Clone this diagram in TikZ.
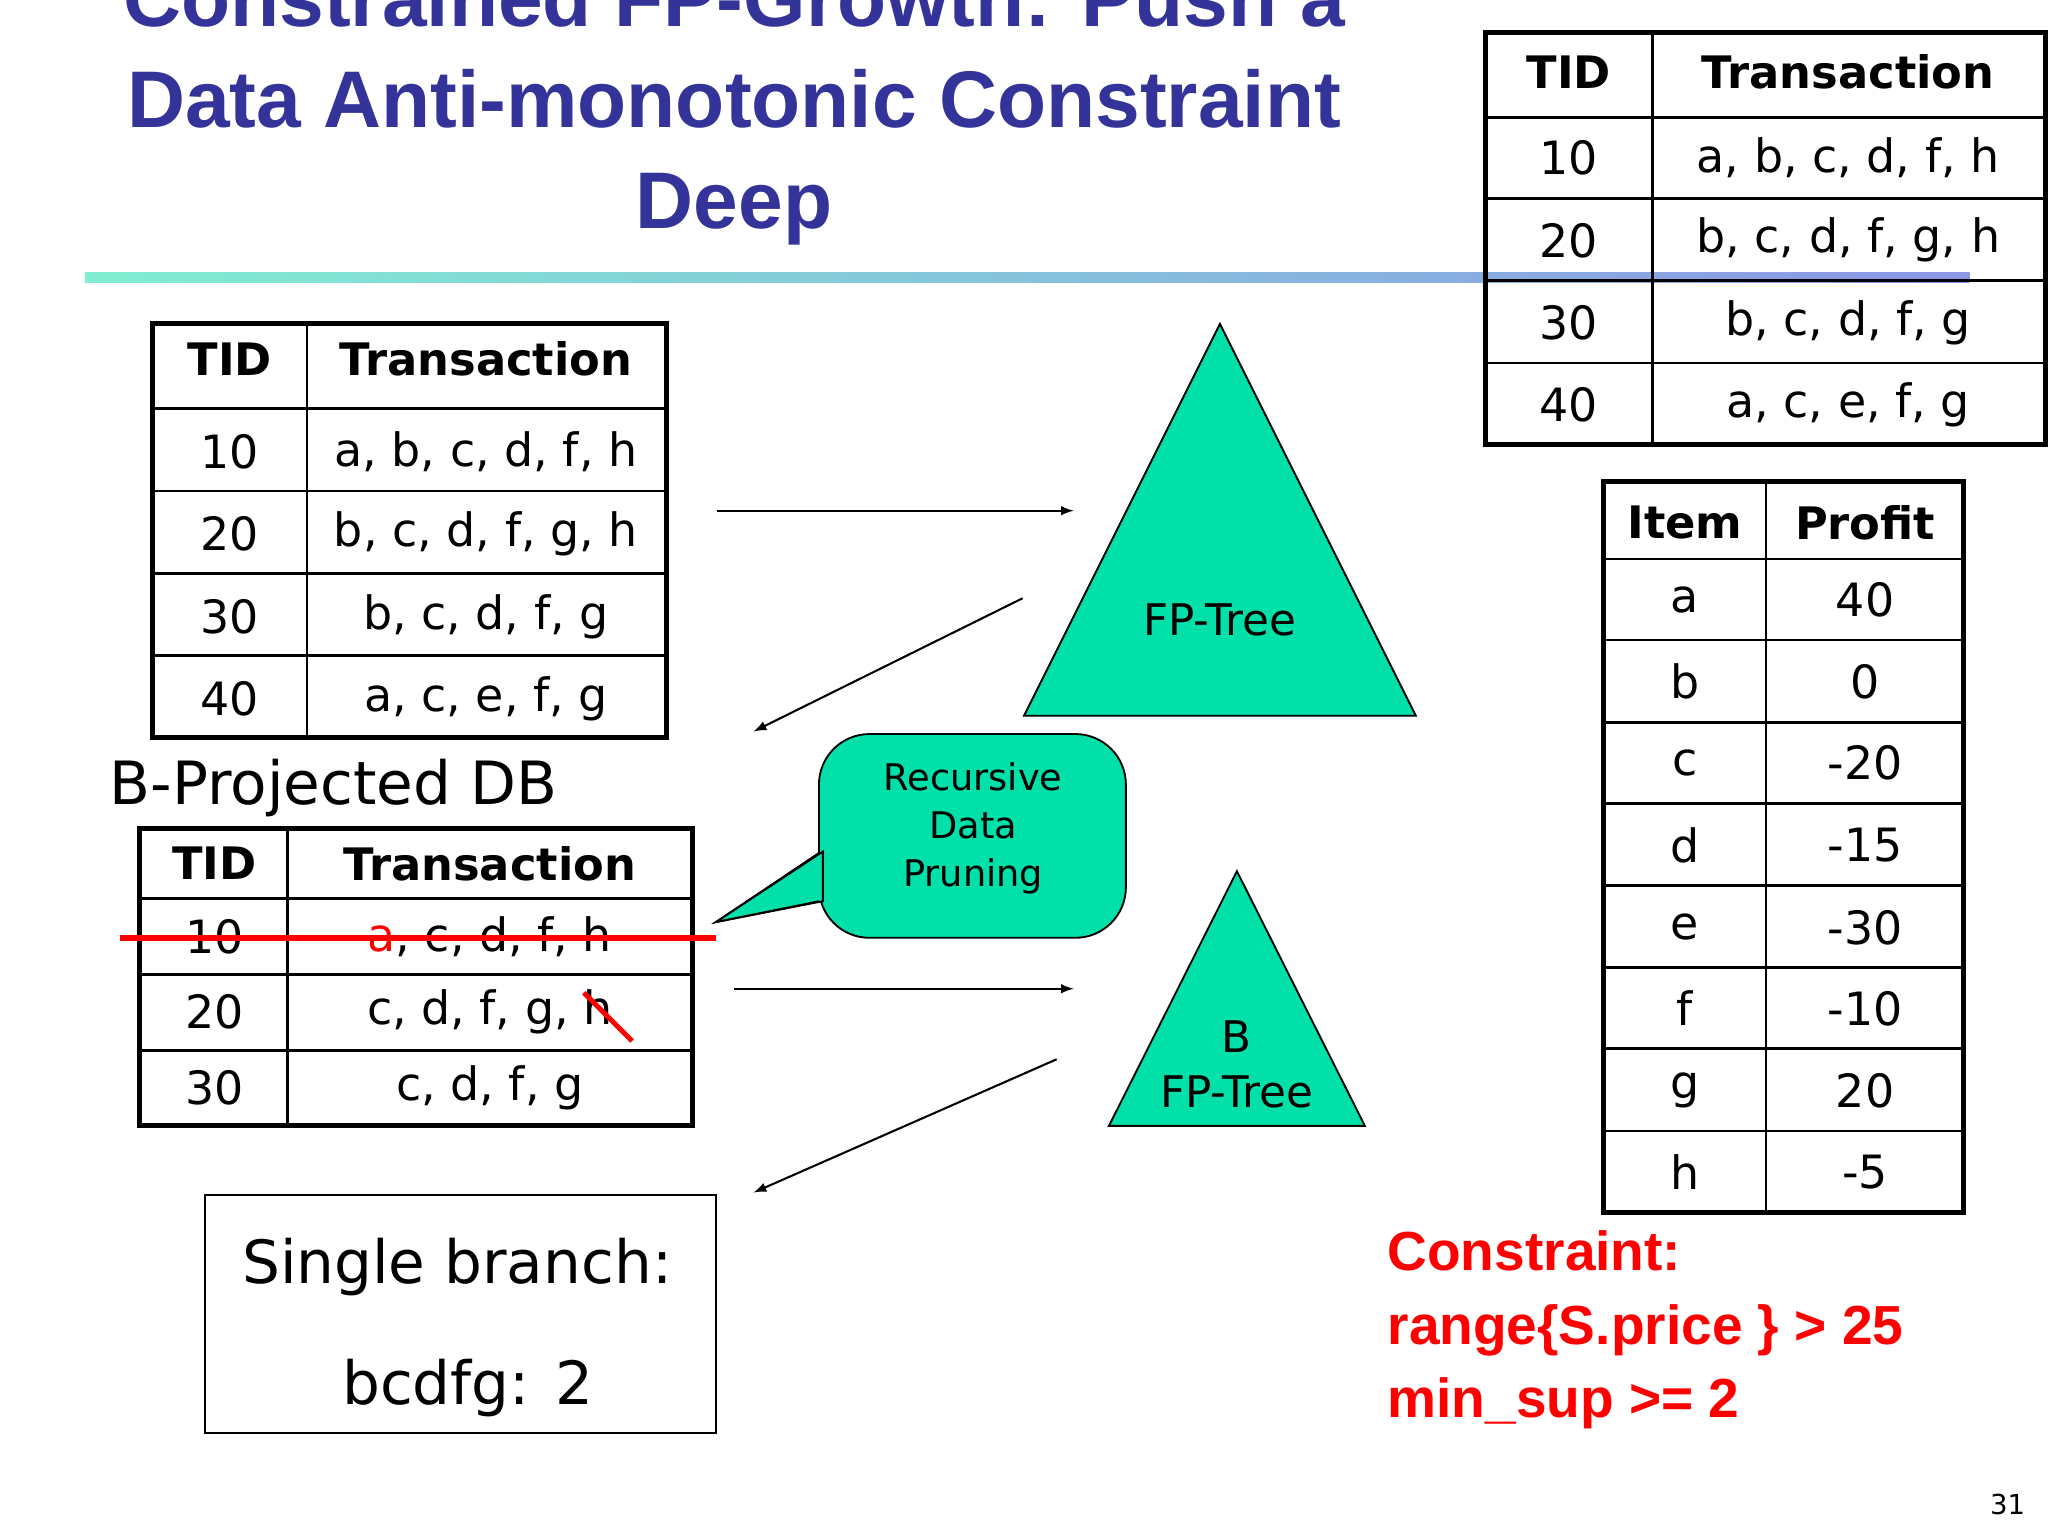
\documentclass[tikz,border=0pt]{standalone}
\usepackage{fontspec}
\setmainfont{DejaVu Sans}
\newfontfamily\titlef{Liberation Sans}
\begin{document}
\begin{tikzpicture}[x=0.02cm,y=-0.02cm,
 tb/.style={line width=2.2pt},
 tl/.style={line width=1.2pt},
 tx/.style={font=\fontsize{20}{24}\selectfont,anchor=center},
 hd/.style={font=\fontsize{19.5}{24}\selectfont\bfseries,anchor=center},
 arr/.style={-latex,line width=0.9pt},
 tri/.style={fill=tri,draw=black,line width=0.8pt}]
\definecolor{tri}{RGB}{0,224,168}
\definecolor{ttl}{RGB}{51,51,153}
\useasboundingbox (0,0) rectangle (1568,1176);
\fill[white] (0,0) rectangle (1568,1176);
% title
\node[font=\titlef\fontsize{35}{40}\selectfont\bfseries,text=ttl,align=center] (title) at (562,82)
 {Constrained FP-Growth: Push a\\[4pt]Data Anti-monotonic Constraint\\[4pt]Deep};
\shade[left color={rgb,255:red,128;green,238;blue,208},right color={rgb,255:red,140;green,150;blue,230}] (65,209) rectangle (1508,216);
% top right table
\draw[tb] (1137,25) rectangle (1566,340);
\draw[tl] (1265,25) -- (1265,340);
\foreach \y in {90,152,215,278} \draw[tl] (1137,\y) -- (1566,\y);
\node[hd] at (1201,55) {TID}; \node[hd] at (1415,55) {Transaction};
\foreach \y/\a/\b in {121/10/{a, b, c, d, f, h},184/20/{b, c, d, f, g, h},247/30/{b, c, d, f, g},310/40/{a, c, e, f, g}}
 {\node[tx] at (1201,\y) {\a}; \node[tx] at (1415,\y) {\b};}
% left table 1
\draw[tb] (117,248) rectangle (510,565);
\draw[tl] (235,248) -- (235,565);
\foreach \y in {313,376,439,502} \draw[tl] (117,\y) -- (510,\y);
\node[hd] at (176,275) {TID}; \node[hd] at (372,275) {Transaction};
\foreach \y/\a/\b in {346/10/{a, b, c, d, f, h},409/20/{b, c, d, f, g, h},472/30/{b, c, d, f, g},535/40/{a, c, e, f, g}}
 {\node[tx] at (176,\y) {\a}; \node[tx] at (372,\y) {\b};}
% B-projected
\node[font=\fontsize{26}{30}\selectfont,anchor=west] (bproj) at (78,603) {B-Projected DB};
\draw[tb] (107,634) rectangle (530,862);
\draw[tl] (220,634) -- (220,862);
\foreach \y in {688,746,804} \draw[tl] (107,\y) -- (530,\y);
\node[hd] at (164,661) {TID}; \node[hd] at (375,661) {Transaction};
\node[tx] at (164,717) {10}; \node[tx] at (375,717) {\textcolor{red}{a}, c, d, f, h};
\node[tx] at (164,775) {20}; \node[tx] at (375,775) {c, d, f, g, h};
\node[tx] at (164,833) {30}; \node[tx] at (375,833) {c, d, f, g};
\draw[red,line width=2.6pt] (92,718) -- (548,718);
\draw[red,line width=2.2pt] (447,760) -- (484,797);
% triangles
\draw[tri] (934,248) -- (1084,548) -- (784,548) -- cycle;
\node[font=\fontsize{19}{24}\selectfont] (fp) at (934,475) {FP-Tree};
\draw[tri] (947,667) -- (1045,862) -- (849,862) -- cycle;
\node[font=\fontsize{19}{24}\selectfont,align=center] (bfp) at (947,815) {B\\FP-Tree};
% callout
\draw[tri,rounded corners=22pt] (627,562) rectangle (862,718);
\fill[tri] (630,652) -- (548,706) -- (630,690) -- cycle;
\draw[line width=0.8pt] (627,653) -- (548,706) -- (627,690);
\node[font=\fontsize{16}{21}\selectfont,align=center] (rdp) at (745,634) {Recursive\\Data\\Pruning};
% arrows
\coordinate (a1) at (549,391); \coordinate (a2) at (822,391);
\coordinate (b1) at (783,458); \coordinate (b2) at (577,560);
\coordinate (c1) at (562,757); \coordinate (c2) at (822,757);
\coordinate (d1) at (809,811); \coordinate (d2) at (577,913);
\draw[arr] (a1) -- (a2); \draw[arr] (b1) -- (b2);
\draw[arr] (c1) -- (c2); \draw[arr] (d1) -- (d2);
% single branch
\draw[line width=0.8pt] (157,915) rectangle (548,1097);
\node[font=\fontsize{26}{30}\selectfont] (sb) at (350,970) {Single branch:};
\node[font=\fontsize{26}{30}\selectfont] (sb2) at (358,1063) {bcdfg: 2};
% profit table
\draw[tb] (1228,369) rectangle (1503,928);
\draw[tl] (1352,369) -- (1352,928);
\foreach \y in {428,490,553,615,678,741,803,866} \draw[tl] (1228,\y) -- (1503,\y);
\node[hd] at (1290,400) {Item}; \node[hd] at (1428,400) {Profit};
\foreach \y/\a/\b in {459/a/40,522/b/0,584/c/-20,647/d/-15,710/e/-30,772/f/-10,835/g/20,897/h/-5}
 {\node[tx] at (1290,\y) {\a}; \node[tx] at (1428,\y) {\b};}
% constraint
\node[font=\titlef\fontsize{24}{32}\selectfont\bfseries,text=red,anchor=north west,align=left,inner sep=0] (con) at (1062,942)
 {Constraint:\\range\{S.price \} > 25\\min\_sup >= 2};
\node[font=\fontsize{12}{14}\selectfont] (pg) at (1537,1152) {31};
\end{tikzpicture}
\end{document}
